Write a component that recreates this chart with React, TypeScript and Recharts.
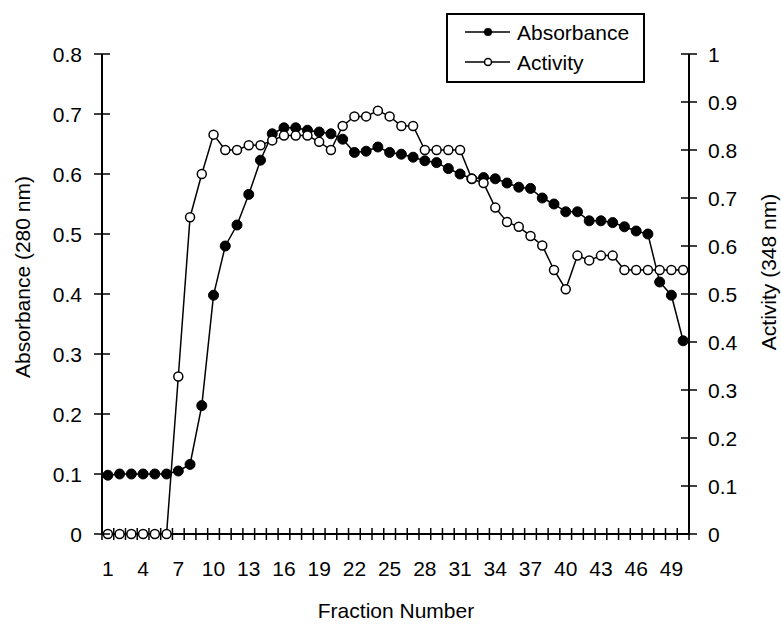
import React from "react";
import { LineChart, Line, XAxis, YAxis, Legend, Label } from "recharts";

const fractions = [
  1, 2, 3, 4, 5, 6, 7, 8, 9, 10, 11, 12, 13, 14, 15, 16, 17, 18, 19, 20, 21,
  22, 23, 24, 25, 26, 27, 28, 29, 30, 31, 32, 33, 34, 35, 36, 37, 38, 39, 40,
  41, 42, 43, 44, 45, 46, 47, 48, 49, 50,
];

const absorbance = [
  0.098, 0.1, 0.1, 0.1, 0.1, 0.1, 0.105, 0.116, 0.214, 0.398,
  0.48, 0.515, 0.566, 0.623, 0.667, 0.677, 0.677, 0.673, 0.67, 0.667,
  0.658, 0.636, 0.638, 0.645, 0.636, 0.633, 0.628, 0.622, 0.619, 0.609,
  0.6, 0.592, 0.594, 0.592, 0.585, 0.578, 0.576, 0.56, 0.55, 0.537,
  0.537, 0.522, 0.522, 0.519, 0.512, 0.505, 0.5, 0.42, 0.398, 0.322,
];

const activity = [
  0, 0, 0, 0, 0, 0, 0.328, 0.66, 0.75, 0.832,
  0.8, 0.8, 0.81, 0.81, 0.82, 0.83, 0.83, 0.83, 0.817, 0.8,
  0.85, 0.87, 0.87, 0.882, 0.87, 0.85, 0.85, 0.8, 0.8, 0.8,
  0.8, 0.74, 0.731, 0.68, 0.65, 0.64, 0.621, 0.601, 0.55, 0.51,
  0.58, 0.57, 0.58, 0.58, 0.55, 0.55, 0.55, 0.55, 0.55, 0.55,
];

const xTickLabels = [1, 4, 7, 10, 13, 16, 19, 22, 25, 28, 31, 34, 37, 40, 43, 46, 49];
const leftTicks = [0, 0.1, 0.2, 0.3, 0.4, 0.5, 0.6, 0.7, 0.8];
const rightTicks = [0, 0.1, 0.2, 0.3, 0.4, 0.5, 0.6, 0.7, 0.8, 0.9, 1];

const data = fractions.map((f, i) => ({
  fraction: f,
  absorbance: absorbance[i],
  activity: activity[i],
}));

// tick marks sit between fractions, labels on every third fraction
const boundaries = [fractions[0] - 0.5, ...fractions.map((f) => f + 0.5)];
const xTicks = [...boundaries, ...xTickLabels].sort((a, b) => a - b);

const FONT = "'Liberation Sans', Arial, sans-serif";
const FS = 21;

const fmt = (v: number) => String(Math.round(v * 10) / 10);

const LeftTick = (props: any) => {
  const { x, y, payload } = props;
  return (
    <g>
      <line x1={x - 8} x2={x + 8} y1={y} y2={y} stroke="#000" strokeWidth={1.5} />
      <text x={x - 20} y={y} dy="0.36em" textAnchor="end" fontSize={FS} fontFamily={FONT} fill="#000">
        {fmt(payload.value)}
      </text>
    </g>
  );
};

const RightTick = (props: any) => {
  const { x, y, payload } = props;
  return (
    <g>
      <line x1={x - 8} x2={x + 8} y1={y} y2={y} stroke="#000" strokeWidth={1.5} />
      <text x={x + 19} y={y} dy="0.36em" textAnchor="start" fontSize={FS} fontFamily={FONT} fill="#000">
        {fmt(payload.value)}
      </text>
    </g>
  );
};

const BottomTick = (props: any) => {
  const { x, y, payload } = props;
  const v = payload.value;
  if (Number.isInteger(v)) {
    return (
      <text x={x} y={y + 34} dy="0.36em" textAnchor="middle" fontSize={FS} fontFamily={FONT} fill="#000">
        {v}
      </text>
    );
  }
  return <line x1={x} x2={x} y1={y - 6} y2={y + 6} stroke="#000" strokeWidth={1.5} />;
};

const LegendBox = () => (
  <div
    style={{
      width: 199,
      height: 70,
      boxSizing: "border-box",
      border: "2px solid #000",
      background: "#fff",
      fontFamily: FONT,
      fontSize: FS,
      position: "relative",
    }}
  >
    <svg width={199} height={70} style={{ position: "absolute", left: -2, top: -2 }}>
      <line x1={19} x2={64} y1={19} y2={19} stroke="#000" strokeWidth={1.5} />
      <circle cx={42} cy={19} r={4} fill="#000" />
      <text x={71} y={19} dy="0.36em" fontSize={FS} fontFamily={FONT}>Absorbance</text>
      <line x1={19} x2={64} y1={49} y2={49} stroke="#000" strokeWidth={1.5} />
      <circle cx={42} cy={49} r={3.5} fill="#fff" stroke="#000" strokeWidth={1.5} />
      <text x={71} y={49} dy="0.36em" fontSize={FS} fontFamily={FONT}>Activity</text>
    </svg>
  </div>
);

const App = () => {
  return (
    <div style={{ position: "absolute", left: 0, top: 0, background: "#fff" }}>
      <LineChart
        width={781}
        height={629}
        data={data}
        margin={{ top: 54, right: 32, left: 42, bottom: 55 }}
      >
        <XAxis
          dataKey="fraction"
          type="number"
          domain={[0.5, 50.5]}
          ticks={xTicks}
          interval={0}
          height={40}
          tickSize={0}
          tickMargin={0}
          tickLine={false}
          axisLine={{ stroke: "#000", strokeWidth: 2 }}
          tick={BottomTick}
        >
          <Label
            content={() => (
              <text x={396} y={610} dy="0.36em" textAnchor="middle" fontSize={FS} fontFamily={FONT} fill="#000">
                Fraction Number
              </text>
            )}
          />
        </XAxis>
        <YAxis
          yAxisId="left"
          domain={[0, 0.8]}
          ticks={leftTicks}
          interval={0}
          width={60}
          tickSize={0}
          tickMargin={0}
          tickLine={false}
          axisLine={{ stroke: "#000", strokeWidth: 2 }}
          tick={LeftTick}
        >
          <Label
            content={() => (
              <text
                x={22}
                y={277}
                dy="0.36em"
                textAnchor="middle"
                fontSize={FS}
                fontFamily={FONT}
                fill="#000"
                transform="rotate(-90 22 277)"
              >
                Absorbance (280 nm)
              </text>
            )}
          />
        </YAxis>
        <YAxis
          yAxisId="right"
          orientation="right"
          domain={[0, 1]}
          ticks={rightTicks}
          interval={0}
          width={60}
          tickSize={0}
          tickMargin={0}
          tickLine={false}
          axisLine={{ stroke: "#000", strokeWidth: 2 }}
          tick={RightTick}
        >
          <Label
            content={() => (
              <text
                x={768}
                y={272}
                dy="0.36em"
                textAnchor="middle"
                fontSize={FS}
                fontFamily={FONT}
                fill="#000"
                transform="rotate(-90 768 272)"
              >
                Activity (348 nm)
              </text>
            )}
          />
        </YAxis>
        <Legend
          layout="horizontal"
          verticalAlign="middle"
          align="center"
          content={() => <LegendBox />}
          wrapperStyle={{ left: 446, top: 13, width: 199, height: 70 }}
        />
        <Line
          yAxisId="left"
          dataKey="absorbance"
          name="Absorbance"
          type="linear"
          stroke="#000"
          strokeWidth={1.5}
          dot={{ r: 5, fill: "#000", stroke: "#000", strokeWidth: 1 }}
          isAnimationActive={false}
        />
        <Line
          yAxisId="right"
          dataKey="activity"
          name="Activity"
          type="linear"
          stroke="#000"
          strokeWidth={1.5}
          dot={{ r: 4.5, fill: "#fff", stroke: "#000", strokeWidth: 1.5 }}
          isAnimationActive={false}
        />
      </LineChart>
    </div>
  );
};

export default App;
